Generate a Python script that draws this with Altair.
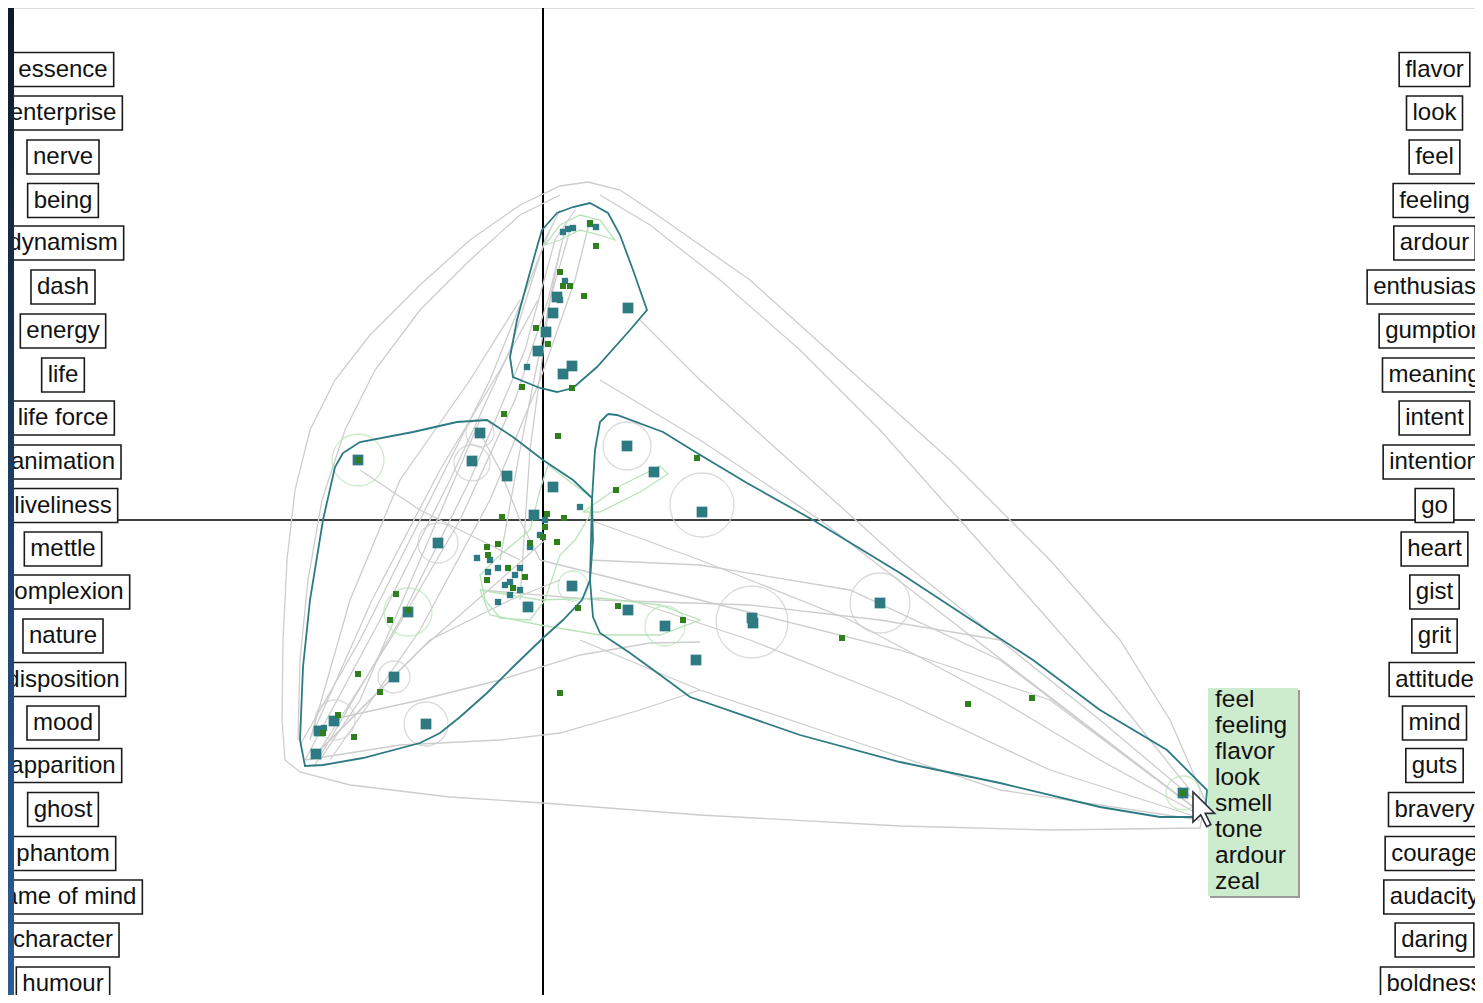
import altair as alt
import pandas as pd

# ---------------- data (in screen-pixel readings) ----------------
ORIGIN = (543, 520)  # where the two map axes cross

left_labels = ["essence", "enterprise", "nerve", "being", "dynamism", "dash", "energy", "life",
               "life force", "animation", "liveliness", "mettle", "complexion", "nature",
               "disposition", "mood", "apparition", "ghost", "phantom", "frame of mind",
               "character", "humour"]
right_labels = ["flavor", "look", "feel", "feeling", "ardour", "enthusiasm", "gumption", "meaning",
                "intent", "intention", "go", "heart", "gist", "grit", "attitude", "mind", "guts",
                "bravery", "courage", "audacity", "daring", "boldness"]
label_rows = [69.5, 113, 157, 200.5, 243, 287, 331, 375, 418, 462, 505.5, 549, 592, 636,
              679.5, 723, 765.5, 809.5, 853.5, 897, 940, 984]
left_col, right_col = 63, 1434.5

tooltip_words = ["feel", "feeling", "flavor", "look", "smell", "tone", "ardour", "zeal"]
tooltip_rows = [707, 733, 759, 785, 811, 837, 863, 889]

teal_pts = [(628, 308), (546, 332), (538, 351), (572, 366), (563, 374), (553, 313), (557, 297),
            (358, 460), (480, 433), (472, 461), (507, 476), (438, 543), (553, 487), (534, 515),
            (572, 586), (408, 612), (528, 607), (627, 446), (654, 472), (702, 512), (628, 610),
            (665, 626), (753, 623), (752, 618), (880, 603), (696, 660), (1183, 793),
            (394, 677), (334, 721), (319, 731), (316, 754), (426, 724)]
teal_small = [(563, 232), (568, 229), (573, 228), (590, 224), (596, 227), (527, 367), (565, 281),
              (560, 300), (580, 507), (477, 558), (498, 568), (520, 568), (510, 582), (510, 595),
              (498, 602), (528, 605), (530, 547), (545, 520), (540, 535), (490, 560), (505, 585),
              (520, 590), (515, 575), (488, 572), (324, 728)]
green_pts = [(560, 272), (563, 286), (570, 286), (584, 296), (536, 328), (548, 344), (522, 387),
             (572, 388), (596, 246), (590, 223), (504, 414), (558, 436), (616, 490), (502, 517),
             (564, 518), (547, 514), (498, 544), (487, 547), (396, 594), (390, 620), (578, 608),
             (618, 606), (545, 527), (543, 537), (530, 543), (488, 555), (508, 568), (525, 577),
             (487, 580), (513, 588), (557, 542), (358, 674), (380, 692), (338, 715), (323, 733),
             (354, 737), (560, 693), (697, 458), (683, 620), (842, 638), (968, 704), (1032, 698),
             (1183, 793), (358, 460), (408, 610)]

teal_hulls = {
    "top": [(542, 230), (557, 213), (573, 207), (590, 203), (608, 213), (620, 235), (633, 270),
            (647, 310), (630, 330), (597, 367), (573, 388), (557, 392), (540, 388), (513, 377),
            (510, 357), (517, 320), (527, 283), (537, 247), (542, 230)],
    "left": [(343, 453), (360, 442), (413, 432), (457, 422), (487, 420), (513, 437), (543, 460),
             (573, 480), (592, 498), (593, 540), (590, 580), (582, 600), (563, 620), (543, 638),
             (513, 667), (487, 693), (460, 717), (440, 733), (420, 743), (363, 758), (323, 765),
             (305, 766), (300, 740), (303, 667), (310, 600), (323, 520), (335, 467), (343, 453)],
    "right": [(608, 414), (617, 415), (663, 432), (697, 453), (747, 483), (813, 520), (900, 573),
              (967, 617), (1033, 660), (1100, 710), (1167, 750), (1207, 790), (1205, 815),
              (1193, 817), (1160, 817), (1100, 807), (1000, 783), (900, 762), (800, 735),
              (690, 697), (663, 677), (630, 653), (600, 633), (593, 617), (590, 580), (592, 500),
              (595, 450), (600, 422), (608, 414)],
}

grey_lines = {
    "outer": [(588, 182), (560, 186), (520, 205), (470, 240), (420, 285), (370, 335), (335, 380),
              (310, 430), (295, 490), (287, 560), (283, 640), (282, 720), (285, 760), (300, 772),
              (350, 785), (450, 797), (543, 803), (700, 815), (900, 826), (1050, 830),
              (1200, 828), (1205, 800), (1170, 720), (1120, 640), (1050, 560), (950, 460),
              (850, 370), (750, 280), (650, 210), (620, 190), (588, 182)],
    "arc_left": [(560, 195), (520, 215), (470, 260), (420, 310), (375, 370), (345, 430),
                 (322, 500), (308, 580), (300, 660), (298, 740)],
    "arc_right": [(600, 195), (650, 225), (720, 280), (800, 350), (880, 430), (960, 520),
                  (1040, 610), (1110, 690), (1190, 790)],
    "top_to_tip": [(640, 320), (700, 380), (800, 470), (900, 560), (1000, 640), (1100, 720),
                   (1195, 800)],
    "top_to_tip2": [(600, 380), (700, 440), (820, 520), (950, 620), (1080, 720), (1200, 812)],
    "b1": [(305, 760), (380, 620), (450, 480), (510, 350), (545, 240), (560, 210)],
    "b2": [(315, 765), (400, 620), (470, 480), (525, 350), (555, 240), (575, 210)],
    "b3": [(300, 745), (360, 640), (430, 500), (490, 380), (530, 280), (550, 230)],
    "b4": [(330, 760), (420, 630), (490, 500), (540, 380), (575, 280), (590, 220)],
    "b5": [(310, 740), (350, 600), (400, 480), (470, 380), (520, 300)],
    "b6": [(320, 750), (390, 640), (460, 520), (515, 400), (548, 300), (565, 230)],
    "b7": [(312, 735), (372, 600), (440, 470), (500, 370), (538, 300)],
    "lens_a": [(305, 760), (400, 745), (500, 740), (560, 733), (640, 710), (700, 690)],
    "lens_b": [(330, 720), (420, 700), (500, 680), (580, 655), (650, 643), (700, 642)],
    "r1": [(590, 520), (700, 560), (850, 620), (1000, 700), (1100, 760), (1200, 815)],
    "r2": [(600, 590), (750, 640), (900, 700), (1050, 770), (1200, 818)],
    "r3": [(580, 640), (700, 690), (850, 740), (1000, 790), (1200, 820)],
    "r4": [(540, 560), (700, 600), (900, 650), (1050, 700), (1200, 812)],
    "r5": [(480, 590), (600, 600), (750, 605), (880, 620), (1000, 640)],
    "r6": [(590, 560), (700, 565), (850, 590), (1000, 660), (1200, 812)],
    "c1": [(360, 470), (420, 510), (480, 540), (520, 560)],
    "c2": [(480, 433), (500, 470), (520, 520), (540, 560)],
    "c3": [(500, 560), (520, 450), (540, 350), (560, 250)],
    "c4": [(520, 600), (530, 450), (550, 300), (570, 230)],
    "c5": [(310, 760), (420, 650), (500, 580), (545, 540)],
    "c6": [(320, 750), (430, 640), (510, 600), (560, 580)],
    "c7": [(480, 420), (420, 560), (360, 700), (320, 760)],
}

grey_rings = [(880, 603, 30), (752, 622, 36), (702, 505, 32), (627, 446, 24), (472, 463, 18),
              (438, 543, 20), (426, 724, 22), (394, 677, 16), (480, 433, 14), (335, 720, 20)]
green_rings = [(358, 460, 26), (408, 612, 24), (1183, 793, 17), (665, 626, 20), (573, 586, 15)]

green_shapes = {
    "centre": [(548, 465), (565, 478), (592, 498), (590, 515), (575, 540), (560, 555), (545, 600),
               (530, 620), (500, 618), (485, 600), (480, 575), (500, 555), (530, 530), (540, 490),
               (548, 465)],
    "lens": [(480, 590), (540, 600), (600, 598), (660, 605), (700, 620), (660, 635), (600, 635),
             (540, 625), (490, 615), (480, 590)],
    "lens2": [(583, 512), (620, 486), (660, 466), (668, 474), (640, 492), (600, 512), (583, 512)],
    "crest": [(545, 245), (560, 225), (580, 215), (600, 220), (615, 240), (600, 235), (580, 230),
              (560, 240), (545, 245)],
}

# ---------------- helpers ----------------
def to_map(px, py):
    return px - ORIGIN[0], ORIGIN[1] - py

def pts_df(pts):
    rows = [to_map(x, y) for x, y in pts]
    return pd.DataFrame(rows, columns=["x", "y"])

def lines_df(d):
    rows = []
    for k, pts in d.items():
        for i, (x, y) in enumerate(pts):
            mx, my = to_map(x, y)
            rows.append({"id": k, "ord": i, "x": mx, "y": my})
    return pd.DataFrame(rows)

ARIAL = {"a": 556, "b": 556, "c": 500, "d": 556, "e": 556, "f": 278, "g": 556, "h": 556,
         "i": 222, "j": 222, "k": 500, "l": 222, "m": 833, "n": 556, "o": 556, "p": 556,
         "q": 556, "r": 333, "s": 500, "t": 278, "u": 556, "v": 500, "w": 722, "x": 500,
         "y": 500, "z": 500, " ": 278}
FS = 24

def text_w(s):
    return sum(ARIAL.get(c, 556) for c in s) / 1000 * FS

def label_df(labels, col):
    rows = []
    for lab, ry in zip(labels, label_rows):
        cx, cy = to_map(col, ry)
        w = text_w(lab) + 12
        rows.append({"label": lab, "cx": cx, "cy": cy, "x": cx - w / 2, "x2": cx + w / 2,
                     "y": cy - 17, "y2": cy + 17})
    return pd.DataFrame(rows)

xs = alt.Scale(domain=[-535, 932], nice=False, zero=False)
ys = alt.Scale(domain=[-475, 512], nice=False, zero=False)
X = lambda f="x": alt.X(f"{f}:Q", scale=xs, axis=None)
Y = lambda f="y": alt.Y(f"{f}:Q", scale=ys, axis=None)

TEAL = "#2e7a82"
GREEN = "#2f7f1c"
GREY = "#cdcdcd"
LGREEN = "#b9e3b9"

layers = []

# axes of the map
layers.append(alt.Chart(pd.DataFrame({"x": [0]})).mark_rule(color="#000000", strokeWidth=2)
              .encode(x=X()))
layers.append(alt.Chart(pd.DataFrame({"y": [0], "x": [-529], "x2": [932]}))
              .mark_rule(color="#000000", strokeWidth=1.6)
              .encode(y=Y(), x=X(), x2="x2:Q"))

# grey outlines
layers.append(alt.Chart(lines_df(grey_lines)).mark_line(color=GREY, strokeWidth=1.3)
              .encode(x=X(), y=Y(), detail="id:N", order="ord:Q"))
gr = pd.DataFrame([dict(zip(["x", "y"], to_map(a, b)), s=(2 * r) ** 2) for a, b, r in grey_rings])
layers.append(alt.Chart(gr).mark_point(shape="circle", filled=False, color=GREY, strokeWidth=1.3)
              .encode(x=X(), y=Y(), size=alt.Size("s:Q", scale=None, legend=None)))
# light green outlines
layers.append(alt.Chart(lines_df(green_shapes)).mark_line(color=LGREEN, strokeWidth=1.3)
              .encode(x=X(), y=Y(), detail="id:N", order="ord:Q"))
gg = pd.DataFrame([dict(zip(["x", "y"], to_map(a, b)), s=(2 * r) ** 2) for a, b, r in green_rings])
layers.append(alt.Chart(gg).mark_point(shape="circle", filled=False, color=LGREEN, strokeWidth=1.3)
              .encode(x=X(), y=Y(), size=alt.Size("s:Q", scale=None, legend=None)))
# teal cluster hulls
layers.append(alt.Chart(lines_df(teal_hulls)).mark_line(color=TEAL, strokeWidth=1.8)
              .encode(x=X(), y=Y(), detail="id:N", order="ord:Q"))

# points
layers.append(alt.Chart(pts_df(teal_pts)).mark_square(color=TEAL, opacity=1, size=115)
              .encode(x=X(), y=Y()))
layers.append(alt.Chart(pts_df(teal_small)).mark_square(color=TEAL, opacity=1, size=40)
              .encode(x=X(), y=Y()))
layers.append(alt.Chart(pts_df(green_pts)).mark_square(color=GREEN, opacity=1, size=36)
              .encode(x=X(), y=Y()))

# word boxes on both sides
for labs, col in [(left_labels, left_col), (right_labels, right_col)]:
    ld = label_df(labs, col)
    layers.append(alt.Chart(ld).mark_rect(fill="white", stroke="#1a1a1a", strokeWidth=1.6, clip=True)
                  .encode(x=X(), x2="x2:Q", y=Y(), y2="y2:Q"))
    layers.append(alt.Chart(ld).mark_text(font="Liberation Sans", fontSize=FS, color="#111111",
                                          align="center", baseline="middle", clip=True)
                  .encode(x=X("cx"), y=Y("cy"), text="label:N"))

# tooltip with the words of the hovered point
tx0, ty0 = to_map(1208, 688)
tx1, ty1 = to_map(1298, 896)
layers.append(alt.Chart(pd.DataFrame({"x": [tx0 + 2], "x2": [tx1 + 2], "y": [ty1 - 2], "y2": [ty0 - 2]}))
              .mark_rect(fill="#9a9a9a").encode(x=X(), x2="x2:Q", y=Y(), y2="y2:Q"))
layers.append(alt.Chart(pd.DataFrame({"x": [tx0], "x2": [tx1], "y": [ty1], "y2": [ty0]}))
              .mark_rect(fill="#cdecce").encode(x=X(), x2="x2:Q", y=Y(), y2="y2:Q"))
tt = pd.DataFrame({"word": tooltip_words,
                   "x": [to_map(1215, r)[0] for r in tooltip_rows],
                   "y": [to_map(1215, r)[1] for r in tooltip_rows]})
layers.append(alt.Chart(tt).mark_text(font="Liberation Sans", fontSize=24.5, color="#111111",
                                      align="left", baseline="alphabetic")
              .encode(x=X(), y=Y(), text="word:N"))

# mouse cursor
cur = pts_df([(1210.5, 809.5)])
CURSOR = "M-1,-1 L-1,0.72 L-0.56,0.3 L-0.22,0.98 L0.02,0.86 L-0.3,0.22 L0.24,0.22 Z"
layers.append(alt.Chart(cur).mark_point(shape=CURSOR, filled=True, fill="white", stroke="#2c2c3a",
                                        strokeWidth=1.6, opacity=1, size=1225)
              .encode(x=X(), y=Y()))

# dark window frame on the left
frame = pd.DataFrame({"x": [-535], "x2": [-529], "y": [-475], "y2": [512]})
grad = alt.Gradient(gradient="linear",
                    stops=[alt.GradientStop(color="#0e1a2b", offset=0),
                           alt.GradientStop(color="#1f4470", offset=0.6),
                           alt.GradientStop(color="#2b5c93", offset=1)],
                    x1=0, x2=0, y1=0, y2=1)
layers.append(alt.Chart(frame).mark_rect(color=grad).encode(x=X(), x2="x2:Q", y=Y(), y2="y2:Q"))

chart = (alt.layer(*layers)
         .properties(width=1467, height=987, padding=0, autosize=alt.AutoSizeParams(type="none"))
         .configure_view(stroke=None)
         .configure(background="white"))

chart.save("out.html", embed_options={"renderer": "svg", "actions": False})
